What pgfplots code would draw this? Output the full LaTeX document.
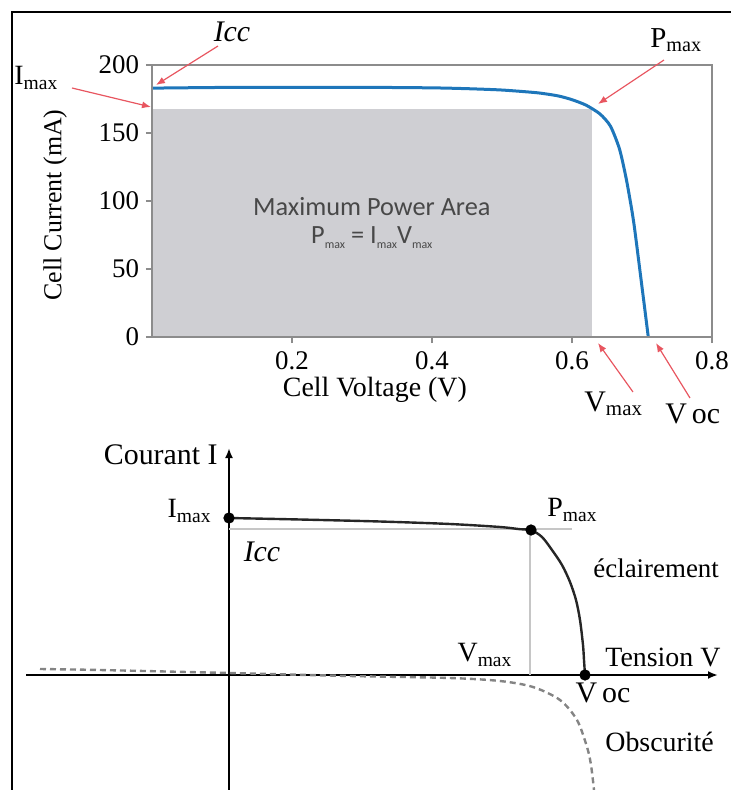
\documentclass[border=0pt]{standalone}
\usepackage{pgfplots}
\pgfplotsset{compat=1.18}
\usepackage{fontspec}
\setmainfont{Liberation Serif}
\newfontfamily\calib{Carlito}
\usetikzlibrary{arrows.meta}
\definecolor{axisgray}{RGB}{140,140,140}
\definecolor{areagray}{RGB}{207,207,211}
\definecolor{curveblue}{RGB}{30,118,186}
\definecolor{arrowred}{RGB}{232,86,96}
\definecolor{textgray}{RGB}{72,72,72}
\definecolor{dashgray}{RGB}{110,110,110}
\newcommand{\fs}[1]{\fontsize{#1}{#1}\selectfont}
\newcommand{\mx}{{\fs{6}\raisebox{-2.2bp}{max}}}
\begin{document}
\begin{tikzpicture}
\useasboundingbox (0,0) rectangle (365.5bp,-395bp);
% outer frame
\draw[line width=1.1bp] (6bp,-395bp) -- (6bp,-6bp) -- (366bp,-6bp);

% ---------------- top chart ----------------
\begin{axis}[
  at={(76bp,-168.5bp)}, anchor=south west,
  scale only axis, width=280bp, height=136bp,
  xmin=0, xmax=0.8, ymin=0, ymax=200,
  xtick={0.2,0.4,0.6,0.8}, ytick={0,50,100,150,200},
  tick pos=left, tick align=outside, major tick length=3bp,
  axis line style={draw=axisgray, line width=1.1bp},
  tick style={draw=axisgray, line width=0.7bp},
  tick label style={font=\fs{13.5}},
  /pgf/number format/assume math mode=true,
  xticklabel style={yshift=-1bp},
  xlabel={Cell Voltage (V)}, ylabel={Cell Current (mA)},
  xlabel style={at={(axis description cs:0.398,-0.195)}, anchor=center, font=\fs{14}},
  ylabel style={at={(axis description cs:-0.173,0.485)}, anchor=center, font=\fs{13}},
  axis on top, clip=false
]
\addplot[fill=areagray, draw=none] coordinates {(0,168) (0.629,168)} \closedcycle;
\addplot[curveblue, line width=1.5bp, smooth, tension=0.4] coordinates {
 (0,183) (0.1,183.5) (0.2,183.6) (0.3,183.6) (0.4,183.2) (0.45,182.6) (0.5,181.6)
 (0.55,179.6) (0.58,177.3) (0.6,174.5) (0.62,170.5) (0.64,164) (0.655,155)
 (0.668,138) (0.678,115) (0.688,85) (0.698,45) (0.709,0)};
\node[font=\calib\fs{13.2}, text=textgray] at (axis cs:0.314,96) {Maximum Power Area};
\node[font=\calib\fs{13.2}, text=textgray] at (axis cs:0.314,73) {P\mx\ = I\mx V\mx};
\end{axis}

% annotations of the top chart
\begin{scope}[x=0.5bp,y=-0.5bp]
\tikzset{redarr/.style={draw=arrowred, line width=0.6bp, -{Latex[length=4.5bp,width=3.5bp]}}}
\draw[redarr] (218,46) -- (156,85);
\node[font=\fs{15}\itshape] at (232,32) {Icc};
\draw[redarr] (72,88) -- (151,107);
\node[font=\fs{14}, anchor=west, inner sep=0pt] at (14,78) {I\textsubscript{max}};
\draw[redarr] (664,60) -- (598,104);
\node[font=\fs{14.5}, anchor=west, inner sep=0pt] at (650,40) {P\textsubscript{max}};
\draw[redarr] (633,392) -- (598,343);
\node[font=\fs{15}, anchor=west, inner sep=0pt] at (584,404) {V\textsubscript{max}};
\draw[redarr] (690,398) -- (656,343);
\node[font=\fs{15}, anchor=west, inner sep=0pt] at (665,414) {V\,oc};
\end{scope}

% ---------------- bottom diagram ----------------
\begin{axis}[
  at={(13bp,-395bp)}, anchor=south west,
  scale only axis, width=346bp, height=171bp,
  xmin=-203, xmax=489, ymin=-115, ymax=227,
  axis lines=middle, xtick=\empty, ytick=\empty,
  axis line style={line width=1.4bp, -{Latex[length=5bp,width=4bp]}},
  clip=false
]
\addplot[gray!45, line width=0.6bp] coordinates {(0,146) (343,146)};
\addplot[gray!45, line width=0.6bp] coordinates {(301,0) (301,145)};
\addplot[dashgray!85, line width=1.2bp, dash pattern=on 3bp off 2bp, smooth, tension=0.5] coordinates {
 (-189,6) (-129,5) (0,2) (121,-1) (221,-3) (271,-6) (304,-12) (331,-25)
 (348,-45) (358,-72) (362,-90) (365,-115)};
\addplot[black!85, line width=1.2bp, smooth, tension=0.5] coordinates {
 (0,157) (71,155.5) (151,153.5) (221,151) (271,148) (291,145.8) (302,145)
 (313,138) (323,125) (333,110) (341,93) (347,75) (351,55) (354,30) (355,15) (356,0)};
\addplot[only marks, mark=*, mark size=2.6bp, black] coordinates {(0,157) (302,145) (356,0)};
\node[font=\fs{15}, anchor=east, inner sep=0pt] at (axis cs:-11,220) {Courant I};
\node[font=\fs{14}, anchor=east, inner sep=0pt] at (axis cs:-17,164) {I\textsubscript{max}};
\node[font=\fs{15}\itshape] at (axis cs:33,123) {Icc};
\node[font=\fs{14}, anchor=west, inner sep=0pt] at (axis cs:318,165) {P\textsubscript{max}};
\node[font=\fs{13.5}, anchor=west, inner sep=0pt] at (axis cs:364,107) {éclairement};
\node[font=\fs{14}] at (axis cs:256,20) {V\textsubscript{max}};
\node[font=\fs{14}, anchor=west, inner sep=0pt] at (axis cs:376,18) {Tension V};
\node[font=\fs{15}] at (axis cs:374,-18) {V\,oc};
\node[font=\fs{14}, anchor=west, inner sep=0pt] at (axis cs:376,-67) {Obscurité};
\end{axis}
\end{tikzpicture}
\end{document}
